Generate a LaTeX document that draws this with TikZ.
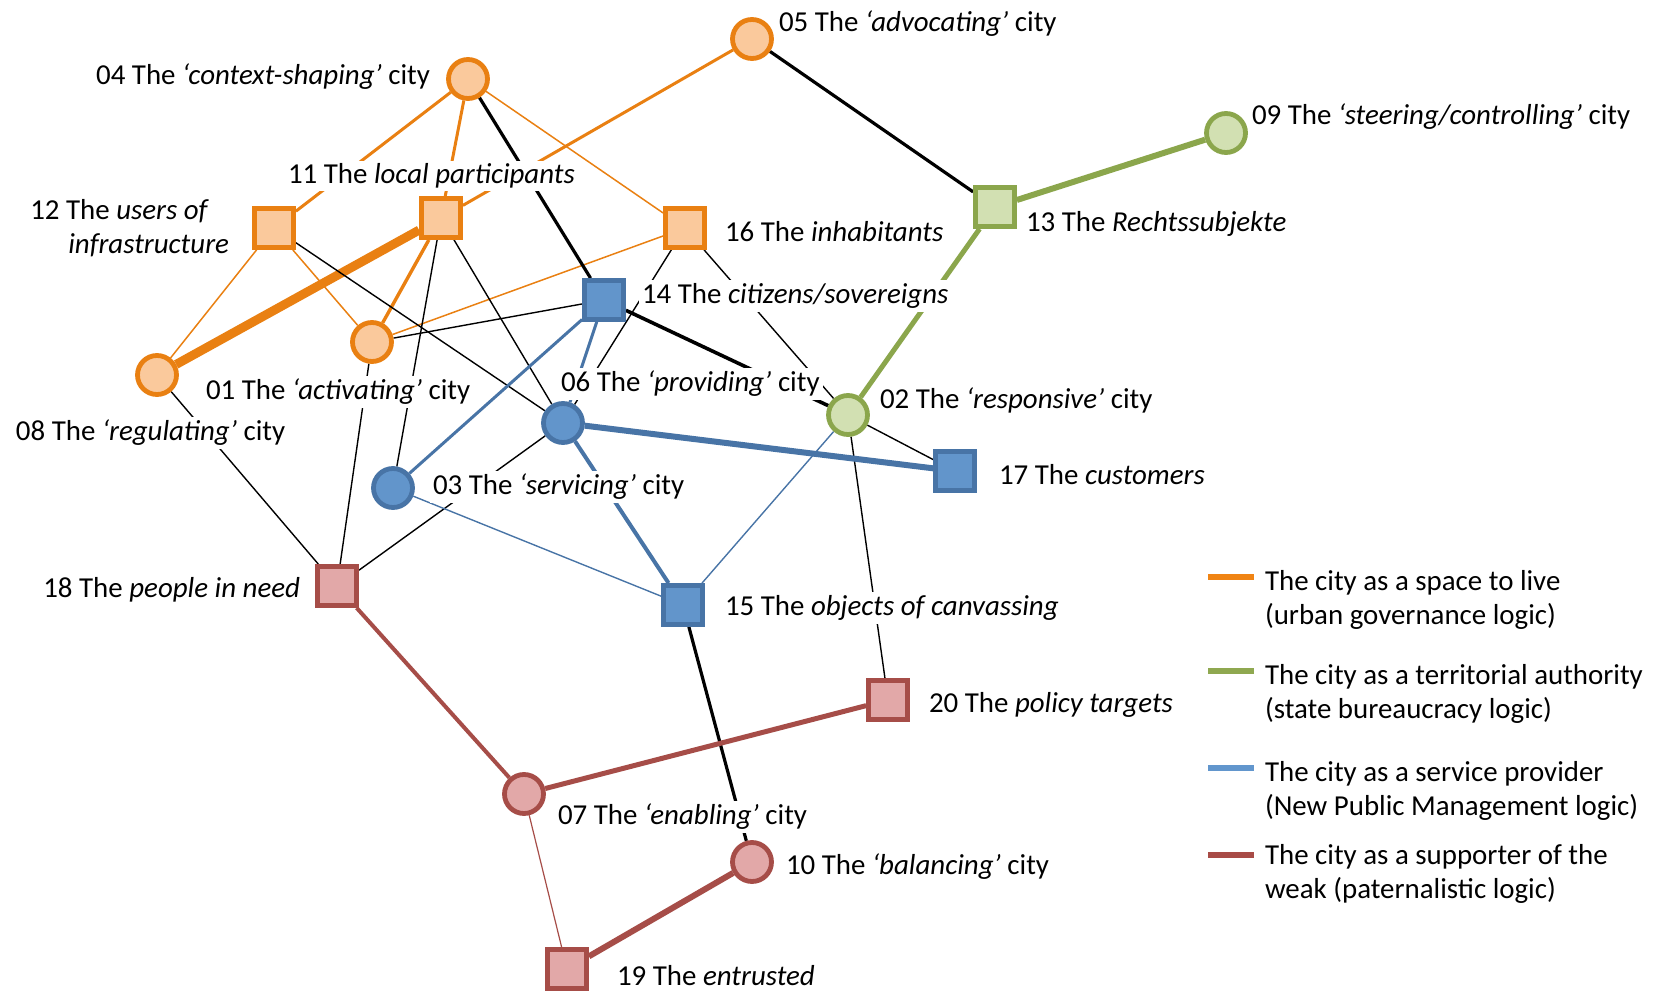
\documentclass[tikz,border=0pt]{standalone}
\usepackage{fontspec}
\setmainfont{Carlito}
\usepackage{xcolor}
\usetikzlibrary{positioning,backgrounds}

\begin{document}
\begin{tikzpicture}[x=0.5pt,y=-0.5pt,
  lbl/.style={fill=white,inner sep=1.5pt,outer sep=0pt,font=\fontsize{14.45}{17}\selectfont},
  citynode/.style={circle,minimum size=19.5pt,inner sep=0pt,line width=2.4pt},
  actornode/.style={rectangle,minimum size=19.5pt,inner sep=0pt,line width=2.4pt},
  live/.style={draw=liveLine,fill=liveFill},
  auth/.style={draw=authLine,fill=authFill},
  serv/.style={draw=servLine,fill=servFill},
  weak/.style={draw=weakLine,fill=weakFill}]
\definecolor{liveLine}{RGB}{233,128,18}
\definecolor{liveFill}{RGB}{250,201,156}
\definecolor{authLine}{RGB}{139,166,76}
\definecolor{authFill}{RGB}{210,224,178}
\definecolor{servLine}{RGB}{72,116,166}
\definecolor{servFill}{RGB}{98,149,203}
\definecolor{weakLine}{RGB}{166,77,72}
\definecolor{weakFill}{RGB}{226,168,168}
\path[use as bounding box] (0,0) rectangle (1653,994);

\node[lbl,anchor=east] (t04) at (433,77) {04 The \textit{‘context-shaping’} city};

\node[lbl,anchor=west] (t05) at (776,24) {05 The \textit{‘advocating’} city};

\node[lbl,anchor=west] (t09) at (1249,117) {09 The \textit{‘steering/controlling’} city};

\node[lbl,anchor=west] (t11) at (285,176) {11 The \textit{local participants}};

\node[lbl,anchor=east,align=right] (t12) at (232,228) {12 The \textit{users of}\hspace*{10pt}\\\textit{infrastructure}};

\node[lbl,anchor=west] (t16) at (722,232) {16 The \textit{inhabitants}};

\node[lbl,anchor=west] (t13) at (1023,224) {13 The \textit{Rechtssubjekte}};

\node[lbl,anchor=west] (t14) at (639,296) {14 The \textit{citizens/sovereigns}};

\node[lbl,anchor=west] (t01) at (203,392) {01 The \textit{‘activating’} city};

\node[lbl,anchor=west] (t08) at (13,433) {08 The \textit{‘regulating’} city};

\node[lbl,anchor=west] (t06) at (558,384) {06 The \textit{‘providing’} city};

\node[lbl,anchor=west] (t02) at (877,400) {02 The \textit{‘responsive’} city};

\node[lbl,anchor=west] (t03) at (430,487) {03 The \textit{‘servicing’} city};

\node[lbl,anchor=west] (t17) at (996,475) {17 The \textit{customers}};

\node[lbl,anchor=east] (t18) at (303,590) {18 The \textit{people in need}};

\node[lbl,anchor=west] (t15) at (722,608) {15 The \textit{objects of canvassing}};

\node[lbl,anchor=west] (t20) at (926,705) {20 The \textit{policy targets}};

\node[lbl,anchor=west] (t07) at (555,817) {07 The \textit{‘enabling’} city};

\node[lbl,anchor=west] (t10) at (783,867) {10 The \textit{‘balancing’} city};

\node[lbl,anchor=west] (t19) at (614,976) {19 The \textit{entrusted}};

\node[citynode,live] (n04) at (468,79) {};
\node[citynode,live] (n05) at (752,39) {};
\node[citynode,auth] (n09) at (1226,133) {};
\node[actornode,live] (n12) at (274,228) {};
\node[actornode,live] (n11) at (441,218) {};
\node[actornode,live] (n16) at (685,228) {};
\node[actornode,auth] (n13) at (995,207) {};
\node[actornode,serv] (n14) at (604,300) {};
\node[citynode,live] (n01) at (372,342) {};
\node[citynode,live] (n08) at (157,375) {};
\node[citynode,serv] (n06) at (563,423) {};
\node[citynode,auth] (n02) at (848,415) {};
\node[citynode,serv] (n03) at (393,488) {};
\node[actornode,serv] (n17) at (955,471) {};
\node[actornode,weak] (n18) at (337,586) {};
\node[actornode,serv] (n15) at (683,605) {};
\node[actornode,weak] (n20) at (888,700) {};
\node[citynode,weak] (n07) at (524,794) {};
\node[citynode,weak] (n10) at (752,862) {};
\node[actornode,weak] (n19) at (567,969) {};

\begin{pgfonlayer}{background}
\path[draw=liveLine,line width=1.5pt] (n04) -- (n12);
\path[draw=liveLine,line width=1.5pt] (n04) -- (n11);
\path[draw=liveLine,line width=0.75pt] (n04) -- (n16);
\path[draw=liveLine,line width=1.5pt] (n05) -- (n11);
\path[draw=liveLine,line width=4.5pt] (n11) -- (n08);
\path[draw=liveLine,line width=1.7pt] (n11) -- (n01);
\path[draw=liveLine,line width=0.75pt] (n12) -- (n08);
\path[draw=liveLine,line width=0.75pt] (n12) -- (n01);
\path[draw=liveLine,line width=0.75pt] (n16) -- (n01);

\path[draw=black,line width=1.6pt] (n04) -- (n14);
\path[draw=black,line width=1.6pt] (n05) -- (n13);
\path[draw=black,line width=1.8pt] (n14) -- (n02);
\path[draw=black,line width=1.6pt] (n15) -- (n10);
\foreach \a/\b in {n12/n06,n11/n03,n11/n06,n01/n14,n01/n18,n08/n18,n16/n06,n16/n02,n02/n17,n02/n20,n06/n18}
  \path[draw=black,line width=0.7pt] (\a) -- (\b);

\path[draw=authLine,line width=3pt] (n13) -- (n09);
\path[draw=authLine,line width=2.5pt] (n13) -- (n02);

\path[draw=servLine,line width=3pt] (n06) -- (n17);
\path[draw=servLine,line width=2pt] (n06) -- (n15);
\path[draw=servLine,line width=1.5pt] (n03) -- (n14);
\path[draw=servLine,line width=1.5pt] (n14) -- (n06);
\path[draw=servLine,line width=0.7pt] (n02) -- (n15);
\path[draw=servLine,line width=0.7pt] (n03) -- (n15);

\path[draw=weakLine,line width=2pt] (n18) -- (n07);
\path[draw=weakLine,line width=2.5pt] (n07) -- (n20);
\path[draw=weakLine,line width=0.6pt] (n07) -- (n19);
\path[draw=weakLine,line width=3pt] (n10) -- (n19);
\end{pgfonlayer}

\coordinate (k1a) at (1208,577);
\coordinate (k1b) at (1254,577);
\coordinate (k2a) at (1208,671);
\coordinate (k2b) at (1254,671);
\coordinate (k3a) at (1208,768);
\coordinate (k3b) at (1254,768);
\coordinate (k4a) at (1208,855);
\coordinate (k4b) at (1254,855);

\path[draw={rgb,255:red,240;green,132;blue,20},line width=3.3pt] (k1a) -- (k1b);
\path[draw={rgb,255:red,143;green,168;blue,80},line width=3.3pt] (k2a) -- (k2b);
\path[draw={rgb,255:red,98;green,150;blue,205},line width=3.3pt] (k3a) -- (k3b);
\path[draw={rgb,255:red,168;green,75;blue,70},line width=3.3pt] (k4a) -- (k4b);

\node[lbl,anchor=west,align=left] (leg1) at (1262,600) {The city as a space to live\\(urban governance logic)};

\node[lbl,anchor=west,align=left] (leg2) at (1262,694) {The city as a territorial authority\\(state bureaucracy logic)};

\node[lbl,anchor=west,align=left] (leg3) at (1262,791) {The city as a service provider\\(New Public Management logic)};

\node[lbl,anchor=west,align=left] (leg4) at (1262,874) {The city as a supporter of the\\weak (paternalistic logic)};
\end{tikzpicture}
\end{document}
